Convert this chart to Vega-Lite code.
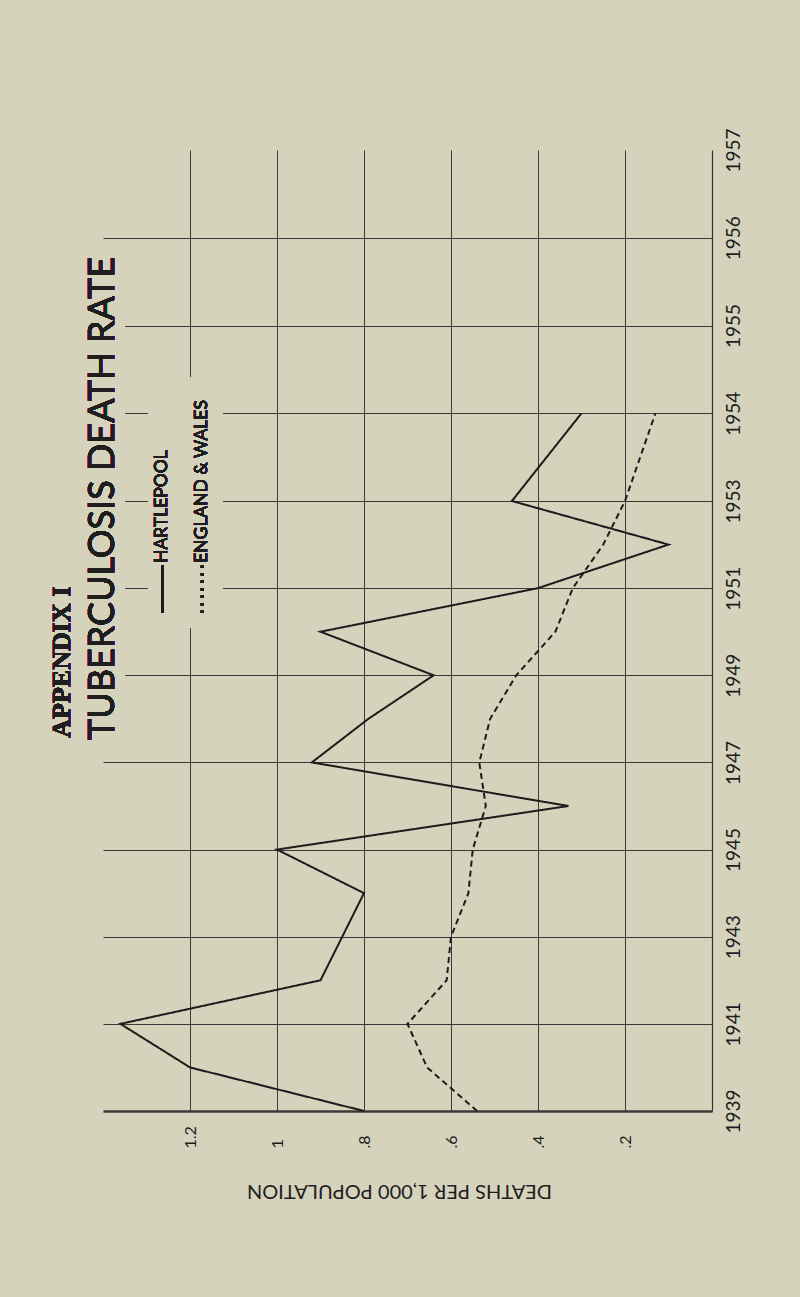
{
  "$schema": "https://vega.github.io/schema/vega-lite/v6.json",
  "width": 609,
  "height": 961,
  "autosize": {"type": "none"},
  "padding": {"left": 103, "top": 150, "right": 88, "bottom": 186},
  "background": "#d5d3bc",
  "config": {"view": {"stroke": null}, "font": "Lato"},
  "data": {
    "values": [
      {"series": "Hartlepool", "year": 1939, "rate": 0.80},
      {"series": "Hartlepool", "year": 1940, "rate": 1.20},
      {"series": "Hartlepool", "year": 1941, "rate": 1.36},
      {"series": "Hartlepool", "year": 1942, "rate": 0.90},
      {"series": "Hartlepool", "year": 1943, "rate": 0.85},
      {"series": "Hartlepool", "year": 1944, "rate": 0.80},
      {"series": "Hartlepool", "year": 1945, "rate": 1.00},
      {"series": "Hartlepool", "year": 1946, "rate": 0.33},
      {"series": "Hartlepool", "year": 1947, "rate": 0.92},
      {"series": "Hartlepool", "year": 1948, "rate": 0.79},
      {"series": "Hartlepool", "year": 1949, "rate": 0.64},
      {"series": "Hartlepool", "year": 1950, "rate": 0.90},
      {"series": "Hartlepool", "year": 1951, "rate": 0.40},
      {"series": "Hartlepool", "year": 1952, "rate": 0.10},
      {"series": "Hartlepool", "year": 1953, "rate": 0.46},
      {"series": "Hartlepool", "year": 1954, "rate": 0.30},
      {"series": "England & Wales", "year": 1939, "rate": 0.54},
      {"series": "England & Wales", "year": 1940, "rate": 0.655},
      {"series": "England & Wales", "year": 1941, "rate": 0.70},
      {"series": "England & Wales", "year": 1942, "rate": 0.61},
      {"series": "England & Wales", "year": 1943, "rate": 0.60},
      {"series": "England & Wales", "year": 1944, "rate": 0.56},
      {"series": "England & Wales", "year": 1945, "rate": 0.55},
      {"series": "England & Wales", "year": 1946, "rate": 0.52},
      {"series": "England & Wales", "year": 1947, "rate": 0.535},
      {"series": "England & Wales", "year": 1948, "rate": 0.51},
      {"series": "England & Wales", "year": 1949, "rate": 0.45},
      {"series": "England & Wales", "year": 1950, "rate": 0.36},
      {"series": "England & Wales", "year": 1951, "rate": 0.32},
      {"series": "England & Wales", "year": 1952, "rate": 0.25},
      {"series": "England & Wales", "year": 1953, "rate": 0.20},
      {"series": "England & Wales", "year": 1954, "rate": 0.13}
    ]
  },
  "layer": [
    {
      "mark": {"type": "line", "color": "#1c1c1c", "strokeWidth": 2},
      "encoding": {
        "x": {
          "field": "rate", "type": "quantitative",
          "scale": {"domain": [0, 1.4], "reverse": true, "nice": false, "zero": false},
          "axis": {
            "orient": "bottom",
            "values": [0.2, 0.4, 0.6, 0.8, 1, 1.2],
            "labelExpr": "datum.value >= 1 ? format(datum.value, '.1~f') : replace(format(datum.value, '.1f'), '0.', '.')",
            "labelAngle": 270, "labelAlign": "left", "labelBaseline": "middle",
            "labelPadding": 37, "labelFontSize": 16, "labelFont": "Lato", "labelColor": "#1e1e1e",
            "labelOverlap": false, "labelBound": false, "labelFlush": false,
            "ticks": false, "domain": false,
            "grid": true, "gridColor": "#3a3a3a", "gridWidth": 1, "gridOpacity": 1,
            "title": "DEATHS PER 1,000 POPULATION",
            "titleAngle": 180, "titleFontSize": 20, "titleFontWeight": "normal", "titleFont": "Lato",
            "titleColor": "#1e1e1e", "titleY": 79, "titleX": 296, "titleBaseline": "middle", "titleAlign": "center"
          }
        },
        "y": {
          "field": "year", "type": "quantitative",
          "scale": {"domain": [1939, 1953, 1957], "range": [961, 351, 0], "nice": false, "zero": false},
          "axis": {
            "orient": "right",
            "values": [1939, 1941, 1943, 1945, 1947, 1949, 1951, 1953, 1954, 1955, 1956, 1957],
            "format": "d",
            "labelAngle": 270, "labelAlign": "center", "labelBaseline": "middle",
            "labelPadding": 21, "labelFontSize": 19, "labelFont": "Lato", "labelColor": "#1e1e1e",
            "labelOverlap": false, "labelBound": false, "labelFlush": false,
            "ticks": false, "domain": true, "domainColor": "#333333", "domainWidth": 1.2,
            "grid": true, "gridColor": "#3a3a3a",
            "gridWidth": {"condition": {"test": "datum.value == 1939", "value": 2.5}, "value": 1},
            "gridOpacity": {"condition": {"test": "datum.value == 1957", "value": 0}, "value": 1},
            "title": null
          }
        },
        "order": {"field": "year", "type": "quantitative"},
        "strokeDash": {
          "field": "series", "type": "nominal",
          "scale": {"domain": ["Hartlepool", "England & Wales"], "range": [[1, 0], [6, 4]]},
          "legend": null
        }
      }
    },
    {
      "mark": {"type": "rect", "color": "#d5d3bc", "stroke": null},
      "encoding": {
        "x": {"datum": 1.4}, "x2": {"datum": 1.35},
        "y": {"datum": 1947.6}, "y2": {"datum": 1955.8}
      }
    },
    {
      "mark": {"type": "rect", "color": "#d5d3bc", "stroke": null},
      "encoding": {
        "x": {"datum": 1.296}, "x2": {"datum": 1.126},
        "y": {"datum": 1950.1}, "y2": {"datum": 1954.41}
      }
    },
    {
      "mark": {"type": "text", "text": "APPENDIX  I", "angle": 270, "align": "center", "baseline": "middle",
               "font": "Liberation Serif", "fontWeight": "bold", "fontSize": 26, "color": "#1e1e1e"},
      "encoding": {"x": {"datum": 1.494}, "y": {"datum": 1949.3}}
    },
    {
      "mark": {"type": "text", "text": "TUBERCULOSIS DEATH RATE", "angle": 270, "align": "center", "baseline": "middle",
               "font": "Lato", "fontSize": 36, "color": "#1e1e1e"},
      "encoding": {"x": {"datum": 1.401}, "y": {"datum": 1953.03}}
    },
    {
      "mark": {"type": "rule", "color": "#1e1e1e", "strokeWidth": 2},
      "encoding": {"x": {"datum": 1.264}, "y": {"datum": 1950.43}, "y2": {"datum": 1951.53}}
    },
    {
      "mark": {"type": "rule", "color": "#1e1e1e", "strokeWidth": 2.5, "strokeDash": [2.5, 5]},
      "encoding": {"x": {"datum": 1.172}, "y": {"datum": 1950.43}, "y2": {"datum": 1951.53}}
    },
    {
      "mark": {"type": "text", "text": "HARTLEPOOL", "angle": 270, "align": "left", "baseline": "middle",
               "font": "Lato", "fontSize": 17.5, "color": "#1e1e1e"},
      "encoding": {"x": {"datum": 1.264}, "y": {"datum": 1951.58}}
    },
    {
      "mark": {"type": "text", "text": "ENGLAND & WALES", "angle": 270, "align": "left", "baseline": "middle",
               "font": "Lato", "fontSize": 17.5, "color": "#1e1e1e"},
      "encoding": {"x": {"datum": 1.172}, "y": {"datum": 1951.58}}
    }
  ]
}
